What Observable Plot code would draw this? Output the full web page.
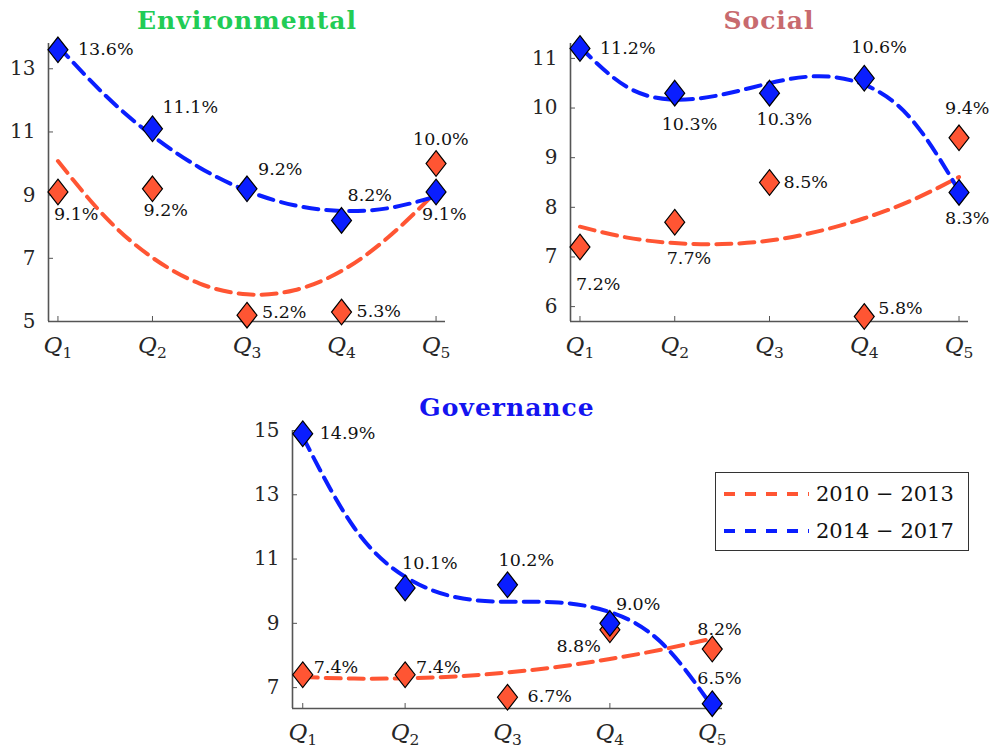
<!DOCTYPE html>
<html>
<head>
<meta charset="utf-8">
<script src="https://cdn.jsdelivr.net/npm/d3@7"></script>
<script src="https://cdn.jsdelivr.net/npm/@observablehq/plot@0.6"></script>
<style>
  html, body { margin: 0; padding: 0; background: #fff; }
  #root { position: relative; width: 995px; height: 749px; overflow: hidden; font-family: "DejaVu Serif", serif; }
  .panel { position: absolute; }
  .title { position: absolute; font-family: "DejaVu Serif", serif; font-weight: bold; font-size: 25px; letter-spacing: 1px; text-align: center; white-space: nowrap; line-height: 1; }
  #legend { position: absolute; left: 715px; top: 472px; width: 254px; height: 79px; border: 1.2px solid #333; background: #fff; box-sizing: border-box; }
  .lrow { position: absolute; left: 0; height: 30px; display: flex; align-items: center; font-size: 21px; color: #111; white-space: nowrap; }
</style>
</head>
<body>
<div id="root"></div>
<script>
// ---------- data ----------
const quintiles = [1, 2, 3, 4, 5];
const quintileSubs = ["1", "2", "3", "4", "5"];
const periods = ["2010 \u2212 2013", "2014 \u2212 2017"];

const envEarly = [9.1, 9.2, 5.2, 5.3, 10.0];
const envLate  = [13.6, 11.1, 9.2, 8.2, 9.1];
const socEarly = [7.2, 7.7, 8.5, 5.8, 9.4];
const socLate  = [11.2, 10.3, 10.3, 10.6, 8.3];
const govEarly = [7.4, 7.4, 6.7, 8.8, 8.2];
const govLate  = [14.9, 10.1, 10.2, 9.0, 6.5];

// fitted trend curves at half-quintile steps
const fitX = [1, 1.5, 2, 2.5, 3, 3.5, 4, 4.5, 5];
const envEarlyFit = [10.08, 8.31, 7.02, 6.20, 5.86, 5.99, 6.60, 7.68, 9.10];
const envLateFit  = [13.72, 12.16, 10.88, 9.87, 9.14, 8.68, 8.50, 8.59, 8.96];
const socEarlyFit = [7.61, 7.39, 7.28, 7.26, 7.33, 7.51, 7.78, 8.14, 8.61];
const socLateFit  = [11.23, 10.42, 10.17, 10.27, 10.50, 10.64, 10.47, 9.77, 8.33];
const govEarlyFit = [7.33, 7.28, 7.29, 7.35, 7.47, 7.65, 7.89, 8.18, 8.53];
const govLateFit  = [14.81, 11.99, 10.45, 9.81, 9.67, 9.65, 9.35, 8.41, 6.41];

const envTicks = [5, 7, 9, 11, 13];
const socTicks = [6, 7, 8, 9, 10, 11];
const govTicks = [7, 9, 11, 13, 15];

const panelTitles = ["Environmental", "Social", "Governance"];

// ---------- styles / layout ----------
const RED = "#FF5533", BLUE = "#0A1EFF";
const titleColors = ["#22CC55", "#C86A6E", "#1414F0"];

const diamond = {
  draw(ctx, size) {
    const r = Math.sqrt(size / Math.PI);
    ctx.moveTo(0, -1.22 * r);
    ctx.lineTo(0.95 * r, 0);
    ctx.lineTo(0, 1.22 * r);
    ctx.lineTo(-0.95 * r, 0);
    ctx.closePath();
  }
};

function panel(cfg) {
  const pts = (vals, s) => quintiles.map((q, i) => ({x: q, y: vals[i], s, i}));
  const fit = (vals) => fitX.map((x, i) => ({x, y: vals[i]}));
  const fmt = v => v.toFixed(1) + "%";
  const marks = [
    Plot.ruleX([0.9], {stroke: "#555", strokeWidth: 1.6}),
    Plot.ruleY([cfg.yDomain[0]], {stroke: "#555", strokeWidth: 1.6}),
    Plot.axisY({ticks: cfg.ticks, tickSize: -5, tickPadding: 18, stroke: "#555", fontSize: 20, fill: "#262626", label: null, tickFormat: d => String(d)}),
    Plot.axisX({ticks: quintiles, tickSize: -5, tickPadding: 20, stroke: "#555", fontSize: 23, fill: "#262626", label: null, tickFormat: (d) => quintileSubs[d - 1]}),
    Plot.line(fit(cfg.earlyFit), {x: "x", y: "y", curve: "natural", stroke: RED, strokeWidth: 4, strokeDasharray: "15,8"}),
    Plot.line(fit(cfg.lateFit), {x: "x", y: "y", curve: "natural", stroke: BLUE, strokeWidth: 4, strokeDasharray: "15,8"}),
    Plot.dot(pts(cfg.early, 0), {x: "x", y: "y", symbol: diamond, r: 10.5, fill: RED, stroke: "#000", strokeWidth: 1.2}),
    Plot.dot(pts(cfg.late, 1), {x: "x", y: "y", symbol: diamond, r: 10.5, fill: BLUE, stroke: "#000", strokeWidth: 1.2})
  ];
  const addLabels = (vals, offs) => {
    vals.forEach((v, i) => {
      const [dx, dy, anchor] = offs[i];
      marks.push(Plot.text([{x: quintiles[i], y: v, t: fmt(v)}], {
        x: "x", y: "y", text: "t", dx, dy, textAnchor: anchor || "start",
        fontSize: 17.5, fill: "#111"
      }));
    });
  };
  addLabels(cfg.early, cfg.earlyOff);
  addLabels(cfg.late, cfg.lateOff);

  const svg = Plot.plot({
    width: cfg.width, height: cfg.height,
    marginLeft: cfg.ml, marginRight: cfg.mr, marginTop: cfg.mt, marginBottom: cfg.mb,
    x: {domain: [0.9, 5.1], axis: null},
    y: {domain: cfg.yDomain, axis: null},
    style: {fontFamily: "DejaVu Serif, serif", background: "transparent", overflow: "visible"},
    marks
  });
  // turn x tick labels into italic Q with numeric subscript
  svg.querySelectorAll('[aria-label="x-axis tick label"] text').forEach(t => {
    const n = t.textContent;
    t.textContent = "";
    const ns = "http://www.w3.org/2000/svg";
    const q = document.createElementNS(ns, "tspan");
    q.setAttribute("font-style", "italic");
    q.textContent = "Q";
    const s = document.createElementNS(ns, "tspan");
    s.setAttribute("font-size", "15.5");
    s.setAttribute("dy", "5");
    s.textContent = n;
    t.appendChild(q); t.appendChild(s);
  });
  const div = document.createElement("div");
  div.className = "panel";
  div.style.left = cfg.left + "px";
  div.style.top = cfg.top + "px";
  div.appendChild(svg);
  return div;
}

const root = document.getElementById("root");

root.appendChild(panel({
  left: 0, top: 0, width: 480, height: 370, ml: 48, mr: 35, mt: 43, mb: 49,
  yDomain: [5, 13.8], ticks: envTicks,
  early: envEarly, late: envLate, earlyFit: envEarlyFit, lateFit: envLateFit,
  earlyOff: [[-4, 22], [-9, 22], [15, -3], [15, -1], [-23, -24]],
  lateOff: [[20, 0], [10, -21], [11, -19], [6, -25], [-14, 22]]
}));

root.appendChild(panel({
  left: 500, top: 0, width: 495, height: 370, ml: 70, mr: 27, mt: 43, mb: 49,
  yDomain: [5.7, 11.3], ticks: socTicks,
  early: socEarly, late: socLate, earlyFit: socEarlyFit, lateFit: socLateFit,
  earlyOff: [[-4, 37], [-8, 36], [14, 0], [14, -8], [-14, -29]],
  lateOff: [[20, 0], [-13, 31], [-13, 26], [-13, -31], [-14, 26]]
}));

root.appendChild(panel({
  left: 240, top: 380, width: 520, height: 369, ml: 52, mr: 38, mt: 50, mb: 41,
  yDomain: [6.35, 15], ticks: govTicks,
  early: govEarly, late: govLate, earlyFit: govEarlyFit, lateFit: govLateFit,
  earlyOff: [[11, -7], [11, -7], [20, -1], [-9, 17, "end"], [-15, -20]],
  lateOff: [[17, 0], [-3, -25], [-9, -24], [6, -19], [-15, -25]]
}));

// titles
const titlePos = [[247, 8], [769, 8], [507, 395]];
panelTitles.forEach((t, i) => {
  const d = document.createElement("div");
  d.className = "title";
  d.textContent = t;
  d.style.color = titleColors[i];
  d.style.left = (titlePos[i][0] - 150) + "px";
  d.style.width = "300px";
  d.style.top = titlePos[i][1] + "px";
  root.appendChild(d);
});

// legend
const legend = document.createElement("div");
legend.id = "legend";
[RED, BLUE].forEach((c, i) => {
  const row = document.createElement("div");
  row.className = "lrow";
  row.style.top = (6 + i * 37) + "px";
  row.innerHTML = `<svg width="100" height="30" style="display:block"><line x1="8" y1="15" x2="93" y2="15" stroke="${c}" stroke-width="4" stroke-dasharray="11,10"/></svg><span>${periods[i]}</span>`;
  legend.appendChild(row);
});
root.appendChild(legend);
</script>
</body>
</html>
